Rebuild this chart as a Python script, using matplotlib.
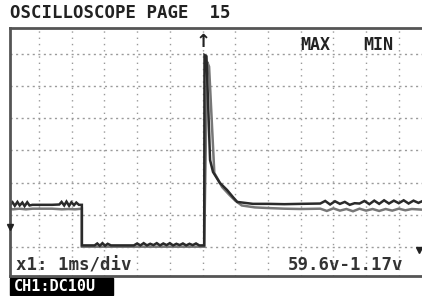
import matplotlib
matplotlib.use("Agg")
import matplotlib.pyplot as plt
from matplotlib.patches import Rectangle

# scope trace, time in ms (1 ms/div), volts (10 V/div)
# max envelope
t_max = [-0.89, -0.81, -0.74, -0.66, -0.59, -0.51, -0.44, -0.36, -0.29, -0.2, 0.4,
         0.62, 0.69, 0.77, 0.84, 0.92, 0.99, 1.07, 1.14, 1.22, 1.31,
         1.31, 1.7, 1.78, 1.86, 1.94, 2.02, 2.1, 2.2, 2.9, 3.0, 3.1, 3.2, 3.3, 3.4,
         3.5, 3.6, 3.7, 3.8, 3.9, 4.0, 4.1, 4.2, 4.3, 4.4, 4.5, 4.6, 4.7, 4.8, 4.9, 5.05,
         5.06, 5.12, 5.23, 5.32, 5.53, 5.75, 5.93, 6.06, 6.54,
         7.0, 7.5, 8.0, 8.6, 8.75, 8.9, 9.05, 9.2, 9.35, 9.5, 9.65, 9.8, 9.95, 10.1,
         10.25, 10.4, 10.55, 10.7, 10.85, 11.0, 11.15, 11.3, 11.45, 11.6, 11.71]
v_max = [13.0, 13.9, 12.8, 14.0, 12.9, 13.8, 12.7, 13.9, 12.9, 13.1, 13.1,
         13.2, 14.0, 12.9, 14.1, 12.8, 13.9, 13.0, 13.8, 13.1, 13.1,
         0.5, 0.5, 1.1, 0.4, 1.2, 0.4, 1.0, 0.5, 0.5, 1.1, 0.5, 1.2, 0.5, 1.0,
         0.6, 1.2, 0.5, 1.1, 0.6, 1.2, 0.5, 1.0, 0.6, 1.1, 0.5, 1.0, 0.6, 1.1, 0.5, 0.5,
         59.6, 59.2, 27.0, 23.3, 19.9, 17.7, 15.5, 14.0, 13.4,
         13.4, 13.3, 13.4, 13.5, 14.3, 13.2, 14.2, 13.4, 14.0, 13.1, 13.6, 13.5, 14.3,
         13.3, 14.4, 13.4, 14.5, 13.5, 14.4, 13.6, 14.5, 13.5, 14.4, 13.7, 14.2]
# min envelope
t_min = [-0.89, -0.8, -0.6, -0.4, -0.2, 0.4, 0.7, 0.9, 1.1, 1.31,
         1.31, 2.0, 3.0, 4.0, 5.05,
         5.14, 5.2, 5.36, 5.6, 5.82, 6.0, 6.2, 6.6,
         7.0, 7.5, 8.0, 8.6, 8.8, 9.0, 9.2, 9.4, 9.6, 9.8, 10.0, 10.2,
         10.4, 10.6, 10.8, 11.0, 11.2, 11.4, 11.71]
v_min = [12.0, 11.7, 11.9, 11.7, 11.9, 11.9, 11.7, 11.8, 11.7, 11.9,
         0.1, 0.1, 0.1, 0.1, 0.1,
         57.5, 56.0, 23.0, 18.6, 16.2, 14.4, 12.9, 12.3,
         12.1, 11.9, 11.8, 11.9, 11.2, 12.0, 11.3, 11.8, 11.1, 11.9, 11.3, 11.8,
         11.2, 11.8, 11.3, 11.9, 11.4, 11.8, 11.6]

grid_t = [0, 1, 2, 3, 4, 5, 6, 7, 8, 9, 10, 11]
grid_v = [0, 10, 20, 30, 40, 50, 60]

title = "OSCILLOSCOPE PAGE  15"
scale_txt = "x1: 1ms/div"
range_txt = "59.6v-1.17v"
chan_txt = "CH1:DC10U"

W, H = 422, 296
fig = plt.figure(figsize=(W / 100, H / 100), dpi=100)
fig.patch.set_facecolor("white")

def fx(px):
    return px / W

def fy(py):
    return 1 - py / H

ax = fig.add_axes([fx(10), fy(276), fx(412), 248 / H])
ax.set_xlim(-0.887, 11.71)
ax.set_ylim(-9.0, 68.0)
ax.set_xticks([])
ax.set_yticks([])
for s in ["left", "top", "bottom"]:
    ax.spines[s].set_color("#555555")
    ax.spines[s].set_linewidth(2)
ax.spines["right"].set_visible(False)

for g in grid_t:
    ax.axvline(g, color="#9a9a9a", lw=1, ls=(0, (1, 3.5)))
for g in grid_v:
    ax.axhline(g, color="#9a9a9a", lw=1, ls=(0, (1.5, 2.5)))

ax.plot(t_min, v_min, color="#777777", lw=1.8, solid_joinstyle="miter")
ax.plot(t_max, v_max, color="#2a2a2a", lw=1.8, solid_joinstyle="miter")

mono = "DejaVu Sans Mono"
fig.text(fx(10), fy(18), title, family=mono, weight="bold", fontsize=12.5,
         va="baseline", color="#222222")
fig.text(fx(300), fy(50), "MAX", family=mono, weight="bold", fontsize=12,
         va="baseline", color="#222222")
fig.text(fx(363), fy(50), "MIN", family=mono, weight="bold", fontsize=12,
         va="baseline", color="#222222")
fig.text(fx(16), fy(271), scale_txt, family=mono, weight="bold", fontsize=12.5,
         va="baseline", color="#333333")
fig.text(fx(288), fy(270), range_txt, family=mono, weight="bold", fontsize=12.5,
         va="baseline", color="#333333")

fig.patches.append(Rectangle((fx(10), fy(295)), fx(103), 17 / H,
                             transform=fig.transFigure, color="black"))
fig.text(fx(14), fy(291), chan_txt, family=mono, weight="bold", fontsize=11,
         va="baseline", color="white")

# trigger arrow and level markers
fig.text(fx(203), fy(47), "\u2191", family="DejaVu Sans", weight="bold",
         fontsize=13, ha="center", va="baseline", color="#222222")
fig.lines.append(plt.Line2D([fx(10)], [fy(227)], marker="v", markersize=5,
                            color="#222222", transform=fig.transFigure))
fig.lines.append(plt.Line2D([fx(419)], [fy(250)], marker="v", markersize=5,
                            color="#222222", transform=fig.transFigure))

fig.savefig("out.png", dpi=100, facecolor="white")
